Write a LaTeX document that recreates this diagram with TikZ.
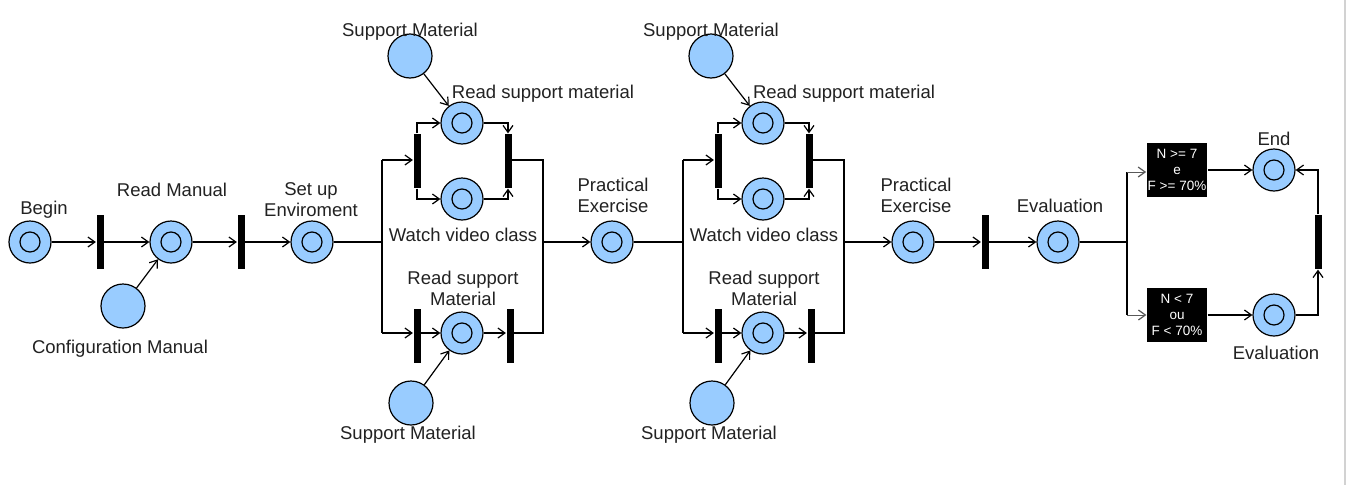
\documentclass[tikz,border=0pt]{standalone}
\usepackage{fontspec}
\setmainfont{Liberation Sans}
\usetikzlibrary{arrows.meta}
\definecolor{placeblue}{HTML}{99CCFF}
\definecolor{txt}{HTML}{222222}
\newcommand{\parblock}{%
  \coordinate (f) at (382,242);
  \coordinate (ft) at (382,160);
  \coordinate (fb) at (382,333);
  \coordinate (j) at (543,242);
  \coordinate (jt) at (543,160);
  \coordinate (jb) at (543,333);
  \node[bar] (ba) at (417,161) {};
  \node[bar] (bb) at (508,161) {};
  \node[bar] (bc) at (417,336) {};
  \node[bar] (bd) at (510,336) {};
  \node[place] (rs) at (462,123) {};
  \node[place] (wv) at (462,199) {};
  \node[place] (rl) at (462,333) {};
  \node[res] (smt) at (410,56) {};
  \node[res] (smb) at (411,403) {};
  \node[lbl] (lsmt) at (410,30) {Support Material};
  \node[lbl] (lsmb) at (408,433) {Support Material};
  \node[lbl] (lrs) at (543,92) {Read support material};
  \node[lbl] (lwv) at (463,233) {Watch video class};
  \node[lbl,align=center] (lrl) at (463,287) {Read support\\Material};
  \draw (ft) -- (fb);
  \draw[->] (ft) -- (ft -| ba.west);
  \draw[->] (fb) -- (fb -| bc.west);
  \draw[->] (ba.north) |- (rs.west);
  \draw[->] (ba.south) |- (wv.west);
  \draw[->] (rs.east) -| (bb.north);
  \draw[->] (wv.east) -| (bb.south);
  \draw (jt -| bb.east) -- (jt) -- (jb) -- (jb -| bd.east);
  \draw[->] (fb -| bc.east) -- (rl.west);
  \draw[->] (rl.east) -- (rl.east -| bd.west);
  \draw[->] (smt) -- (rs);
  \draw[->] (smb) -- (rl);
}
\begin{document}
\begin{tikzpicture}[x=1pt,y=-1pt,
  line width=1.2pt,
  >={Straight Barb[length=7pt,width=10pt,line width=1.2pt]},
  place/.style={circle,draw,fill=placeblue,minimum size=42pt,inner sep=0pt,
    path picture={\draw (path picture bounding box.center) circle (10pt);}},
  res/.style={circle,draw,fill=placeblue,minimum size=44pt,inner sep=0pt},
  bar/.style={rectangle,fill=black,draw=none,minimum width=7pt,minimum height=54pt,inner sep=0pt},
  lbl/.style={text=txt,font=\fontsize{18.5}{21}\selectfont,inner sep=0pt,yshift=-1.5pt},
  cond/.style={rectangle,fill=black,text=white,minimum width=60pt,minimum height=54pt,align=center,
    font=\fontsize{13.5}{16}\selectfont,inner sep=1pt},
  thin/.style={line width=0.8pt,draw=gray!70!black}
]
\useasboundingbox (0,0) rectangle (1347,485);
\fill[white] (0,0) rectangle (1347,485);
\draw[line width=2pt,draw=gray!35] (1345,0) -- (1345,485);

% first part
\node[place] (begin) at (30,242) {};
\node[lbl] (lbegin) at (44,208) {Begin};
\node[bar] (t1) at (100,242) {};
\node[place] (rm) at (171,242) {};
\node[lbl] (lrm) at (172,188) {Read Manual};
\node[res] (cm) at (123,306) {};
\node[lbl] (lcm) at (120,347) {Configuration Manual};
\node[bar] (t2) at (241,242) {};
\node[place] (su) at (312,242) {};
\node[lbl,align=center] (lsu) at (311,198) {Set up\\Enviroment};

\draw[->] (begin) -- (t1);
\draw[->] (t1) -- (rm);
\draw[->] (cm) -- (rm);
\draw[->] (rm) -- (t2);
\draw[->] (t2) -- (su);

% parallel block 1
\begin{scope}[name prefix=A-]
\parblock
\end{scope}
\draw (su) -- (A-f);

\node[place] (pe1) at (612,242) {};
\node[lbl,align=center] (lpe1) at (613,194) {Practical\\Exercise};
\draw[->] (A-j) -- (pe1);

% parallel block 2
\begin{scope}[name prefix=B-,xshift=301pt]
\parblock
\end{scope}
\draw (pe1) -- (B-f);

\node[place] (pe2) at (913,242) {};
\node[lbl,align=center] (lpe2) at (916,194) {Practical\\Exercise};
\draw[->] (B-j) -- (pe2);

\node[bar] (t3) at (985,242) {};
\node[place] (ev) at (1058,242) {};
\node[lbl] (lev) at (1060,204) {Evaluation};
\draw[->] (pe2) -- (t3);
\draw[->] (t3) -- (ev);

% decision
\coordinate (d) at (1127,242);
\coordinate (dt) at (1127,172);
\coordinate (db) at (1127,315);
\node[cond] (c1) at (1177,170) {N >= 7\\e\\F >= 70\%};
\node[cond] (c2) at (1177,315) {N < 7\\ou\\F < 70\%};
\node[place] (end) at (1274,170) {};
\node[lbl] (lend) at (1274,137) {End};
\node[place] (ev2) at (1274,315) {};
\node[lbl] (lev2) at (1276,351) {Evaluation};
\node[bar] (t4) at (1318,242) {};

\draw (ev) -- (d);
\draw (dt) -- (db);
\draw[->,thin] (dt) -- (dt -| c1.west);
\draw[->,thin] (db) -- (db -| c2.west);
\draw[->] (c1.east |- end) -- (end);
\draw[->] (c2.east |- ev2) -- (ev2);
\draw[->] (ev2.east) -| (t4.south);
\draw[->] (t4.north) |- (end.east);
\end{tikzpicture}
\end{document}
